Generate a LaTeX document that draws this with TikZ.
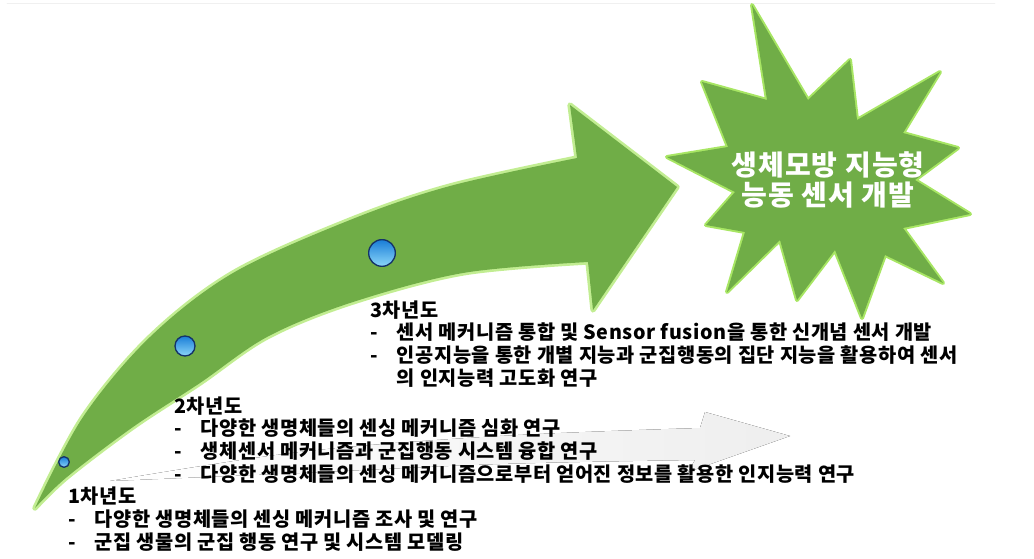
\documentclass[tikz,border=0pt]{standalone}
\usepackage{fontspec}
\setmainfont{Noto Sans CJK KR}[LetterSpace=3]
\definecolor{leaf}{RGB}{112,173,71}
\definecolor{leafedge}{RGB}{168,230,100}
\definecolor{balltop}{RGB}{25,125,215}
\definecolor{ballbot}{RGB}{140,215,250}
\definecolor{ballrim}{RGB}{20,50,105}
\newcommand{\itm}[1]{\makebox[1.35em][l]{-}#1}
\newcommand{\cnt}{\hspace*{1.35em}}
\begin{document}
\begin{tikzpicture}[x=0.75pt,y=-0.75pt,line join=round,line cap=round,
	yeartext/.style={anchor=base west,align=left,inner sep=0pt,font=\fontsize{14.8}{16.9}\selectfont\bfseries},
	stage/.style={circle,draw=ballrim,line width=1pt,inner sep=0pt,top color=balltop,bottom color=ballbot}]
	\useasboundingbox (0,0) rectangle (1034,559);
	\draw[gray!12] (7,3)--(995,3);
	% faint reflection
	\fill[left color=white,right color=gray!13] (110,481)--plot[smooth,tension=.6] coordinates {(110,481) (300,452) (500,436) (700,428)}--(705,412)--(790,436)--(688,472)--plot[smooth,tension=.6] coordinates {(695,460) (500,464) (300,473) (110,481)}--cycle;
	% curved arrow
	\path[preaction={draw=leafedge,line width=4pt,opacity=.7},fill=leaf] plot[smooth,tension=.55] coordinates {(35,508) (83,417) (150,337) (233,273) (350,220) (450,186) (577,158)}--(570,105)--(677,187)--(593,310)--plot[smooth,tension=.55] coordinates {(588,262) (463,273) (350,303) (267,337) (200,383) (133,427) (67,477) (35,508)}--cycle;
	\node[stage,minimum size=8] (s1) at (64,462) {};
	\node[stage,minimum size=15] (s2) at (185,346) {};
	\node[stage,minimum size=20] (s3) at (382,253) {};
	% star
	\path[preaction={draw=leafedge,line width=3pt},fill=leaf] (752,5)--(808,100)--(850,60)--(857,120)--(940,72)--(903,133)--(958,148)--(915,180)--(970,214)--(903,228)--(943,283)--(885,255)--(862,318)--(835,250)--(797,300)--(780,240)--(727,292)--(745,232)--(706,225)--(735,192)--(667,157)--(728,147)--(702,82)--(767,100)--cycle;
	\node[white,align=center,font=\fontsize{21}{22.5}\selectfont\bfseries\addfontfeatures{LetterSpace=4}] (goal) at (828,180) {생체모방 지능형\\능동 센서 개발};
	% texts
	\node[yeartext] (y3) at (370,385) {3차년도\\\itm{센서 메커니즘 통합 및 Sensor fusion을 통한 신개념 센서 개발}\\\itm{인공지능을 통한 개별 지능과 군집행동의 집단 지능을 활용하여 센서}\\\cnt 의 인지능력 고도화 연구};
	\node[yeartext] (y2) at (174,481) {2차년도\\\itm{다양한 생명체들의 센싱 메커니즘 심화 연구}\\\itm{생체센서 메커니즘과 군집행동 시스템 융합 연구}\\\itm{다양한 생명체들의 센싱 메커니즘으로부터 얻어진 정보를 활용한 인지능력 연구}};
	\node[yeartext] (y1) at (68,549) {1차년도\\\itm{다양한 생명체들의 센싱 메커니즘 조사 및 연구}\\\itm{군집 생물의 군집 행동 연구 및 시스템 모델링}};
\end{tikzpicture}
\end{document}
